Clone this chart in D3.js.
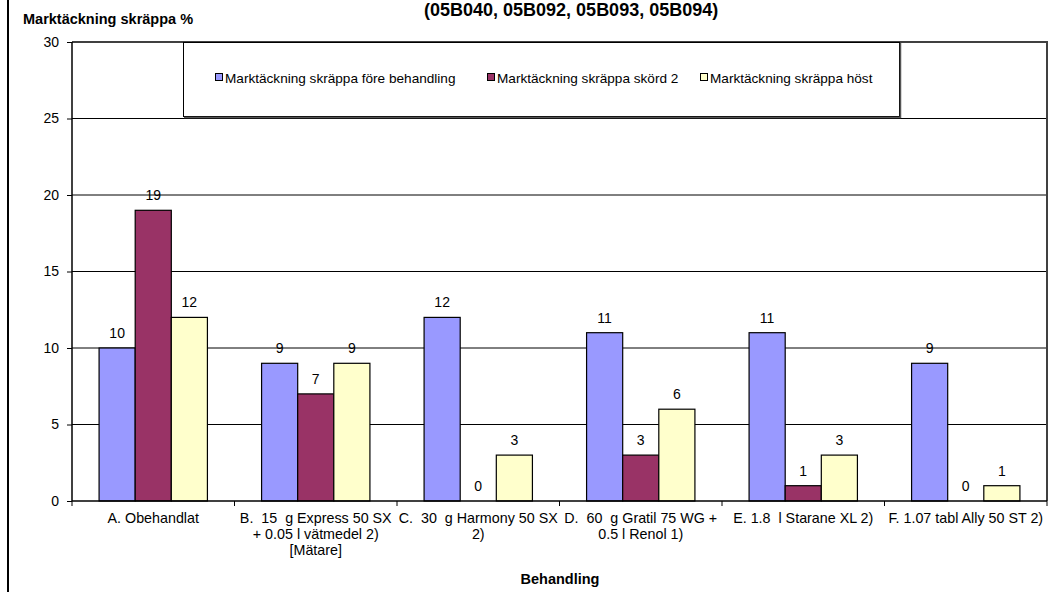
<!DOCTYPE html>
<html>
<head>
<meta charset="utf-8">
<script src="https://cdn.jsdelivr.net/npm/d3@7"></script>
<style>
  html, body { margin: 0; padding: 0; background: #fff; }
  svg { display: block; font-family: "Liberation Sans", Arial, sans-serif; }
  text { white-space: pre; }
</style>
</head>
<body>
<svg id="chart" width="1059" height="592"></svg>
<script>
// Treatments (x categories), drawn as wrapped label lines
const categories = ["A", "B", "C", "D", "E", "F"];
const categoryLabels = [
  ["A. Obehandlat"],
  ["B.  15  g Express 50 SX", "+ 0.05 l vätmedel 2)", "[Mätare]"],
  ["C.  30  g Harmony 50 SX", "2)"],
  ["D.  60  g Gratil 75 WG +", "0.5 l Renol 1)"],
  ["E. 1.8  l Starane XL 2)"],
  ["F. 1.07 tabl Ally 50 ST 2)"]
];

// Series names and values (ground cover of dock, %)
const seriesNames = [
  "Marktäckning skräppa före behandling",
  "Marktäckning skräppa skörd 2",
  "Marktäckning skräppa höst"
];
const foreBehandling = [10, 9, 12, 11, 11, 9];
const skord2 = [19, 7, 0, 3, 1, 0];
const host = [12, 9, 3, 6, 3, 1];
const seriesValues = [foreBehandling, skord2, host];
const seriesColors = ["#9999FF", "#993366", "#FFFFCC"];

const yTicks = [0, 5, 10, 15, 20, 25, 30];

const svg = d3.select("#chart");
const plot = { left: 72, right: 1047, top: 42, bottom: 501 };

const x = d3.scaleBand()
  .domain(categories)
  .range([plot.left, plot.right])
  .paddingInner(1 / 3)
  .paddingOuter(1 / 6);

const xSeries = d3.scaleBand()
  .domain(d3.range(seriesNames.length))
  .range([0, x.bandwidth()])
  .padding(0);

const y = d3.scaleLinear().domain([0, 30]).range([plot.bottom, plot.top]);

// Frame line on the left edge of the chart
svg.append("line")
  .attr("x1", 8).attr("x2", 8).attr("y1", 0).attr("y2", 592)
  .attr("stroke", "#000").attr("stroke-width", 2);

// Title (partly outside the visible area)
svg.append("text")
  .attr("x", 424).attr("y", 16)
  .attr("font-size", 18).attr("font-weight", "bold")
  .text("(05B040, 05B092, 05B093, 05B094)");

// Y axis title
svg.append("text")
  .attr("x", 23).attr("y", 24)
  .attr("font-size", 14.5).attr("font-weight", "bold")
  .text("Marktäckning skräppa %");

// Horizontal gridlines
svg.append("g")
  .selectAll("line")
  .data(yTicks.filter(t => t > 0 && t < 30))
  .join("line")
  .attr("x1", plot.left).attr("x2", plot.right)
  .attr("y1", d => y(d)).attr("y2", d => y(d))
  .attr("stroke", "#000").attr("stroke-width", 1);

// Plot border (top and right)
svg.append("path")
  .attr("d", `M${plot.left},${plot.top}H${plot.right}V${plot.bottom}`)
  .attr("fill", "none").attr("stroke", "#404040").attr("stroke-width", 2);

// Legend box
const legend = svg.append("g");
legend.append("rect")
  .attr("x", 183.5).attr("y", 42.5).attr("width", 716).attr("height", 74)
  .attr("fill", "#fff").attr("stroke", "#000").attr("stroke-width", 1);
legend.append("line")
  .attr("x1", 184).attr("x2", 901).attr("y1", 117.5).attr("y2", 117.5)
  .attr("stroke", "#555").attr("stroke-width", 1.5);
legend.append("line")
  .attr("x1", 900.5).attr("x2", 900.5).attr("y1", 43).attr("y2", 118)
  .attr("stroke", "#555").attr("stroke-width", 1.5);
const legendX = [215, 487, 700];
const legendItems = legend.selectAll("g.item")
  .data(seriesNames)
  .join("g")
  .attr("class", "item")
  .attr("transform", (d, i) => `translate(${legendX[i]},78)`);
legendItems.append("rect")
  .attr("x", 0.5).attr("y", -4.5).attr("width", 7).attr("height", 7)
  .attr("fill", (d, i) => seriesColors[i])
  .attr("stroke", "#000").attr("stroke-width", 1);
legendItems.append("text")
  .attr("x", 10).attr("y", 5)
  .attr("font-size", 13.6)
  .text(d => d);

// Bars
const groups = svg.append("g")
  .selectAll("g")
  .data(categories)
  .join("g")
  .attr("transform", d => `translate(${x(d)},0)`);

groups.selectAll("rect")
  .data((c, ci) => seriesValues.map((vals, si) => ({ si, v: vals[ci] })))
  .join("rect")
  .attr("x", d => xSeries(d.si))
  .attr("y", d => y(d.v))
  .attr("width", xSeries.bandwidth())
  .attr("height", d => y(0) - y(d.v))
  .attr("fill", d => seriesColors[d.si])
  .attr("stroke", "#000")
  .attr("stroke-width", d => d.v > 0 ? 1.2 : 0);

// Value labels
groups.selectAll("text")
  .data((c, ci) => seriesValues.map((vals, si) => ({ si, v: vals[ci] })))
  .join("text")
  .attr("x", d => xSeries(d.si) + xSeries.bandwidth() / 2)
  .attr("y", d => y(d.v) - 10)
  .attr("text-anchor", "middle")
  .attr("font-size", 14)
  .text(d => d.v);

// Y axis
const yAxis = svg.append("g")
  .attr("transform", `translate(${plot.left},0)`)
  .call(d3.axisLeft(y).tickValues(yTicks).tickSize(5).tickPadding(8).tickFormat(d3.format("d")));
yAxis.select(".domain").attr("stroke", "#000").attr("stroke-width", 1.5).attr("d", `M0,${plot.top}V${plot.bottom}`);
yAxis.selectAll(".tick line").attr("stroke", "#000");
yAxis.selectAll(".tick text")
  .attr("font-size", 14).attr("font-family", "Liberation Sans, Arial, sans-serif").attr("fill", "#000");

// X axis with ticks at category boundaries
const xAxisG = svg.append("g");
xAxisG.append("line")
  .attr("x1", plot.left).attr("x2", plot.right)
  .attr("y1", plot.bottom).attr("y2", plot.bottom)
  .attr("stroke", "#000").attr("stroke-width", 1.5);
const boundaries = categories.map(c => x(c) - x.step() * x.paddingInner() / 2).concat([plot.right]);
xAxisG.selectAll("line.tick")
  .data(boundaries)
  .join("line")
  .attr("class", "tick")
  .attr("x1", d => d).attr("x2", d => d)
  .attr("y1", plot.bottom).attr("y2", plot.bottom + 5)
  .attr("stroke", "#000");

const xLabels = xAxisG.selectAll("text.cat")
  .data(categories)
  .join("text")
  .attr("class", "cat")
  .attr("text-anchor", "middle")
  .attr("font-size", 14.3)
  .attr("x", d => x(d) + x.bandwidth() / 2)
  .attr("y", 523);
xLabels.selectAll("tspan")
  .data((d, i) => categoryLabels[i])
  .join("tspan")
  .attr("x", function () { return this.parentNode.getAttribute("x"); })
  .attr("dy", (d, i) => i === 0 ? 0 : 16)
  .text(d => d);

// X axis title
svg.append("text")
  .attr("x", 560).attr("y", 584)
  .attr("text-anchor", "middle")
  .attr("font-size", 14.5).attr("font-weight", "bold")
  .text("Behandling");
</script>
</body>
</html>
